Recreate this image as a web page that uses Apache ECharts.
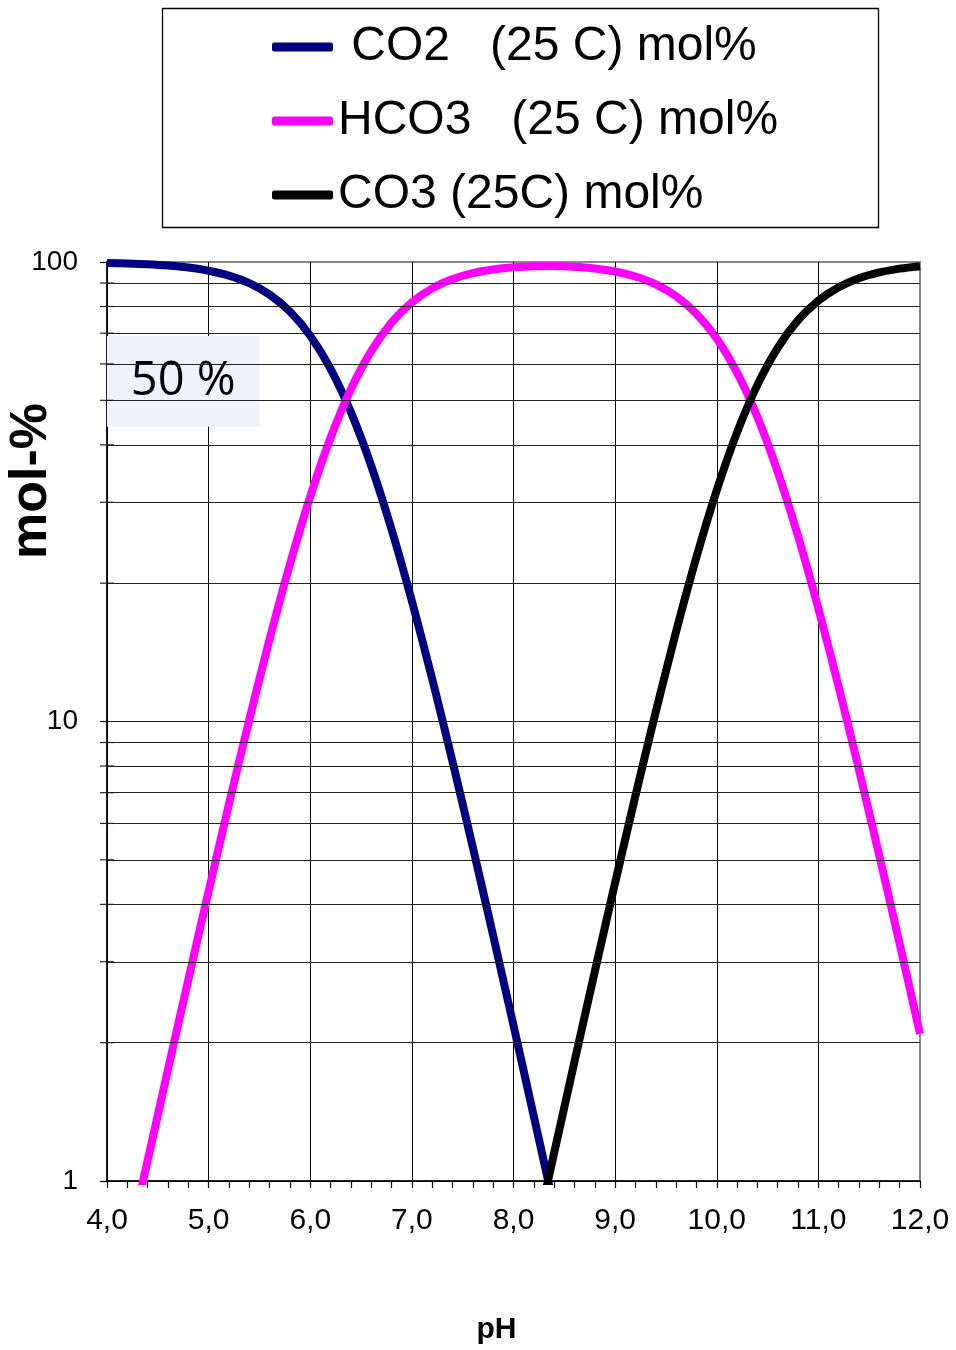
<!DOCTYPE html>
<html>
<head>
<meta charset="utf-8">
<script src="https://cdn.jsdelivr.net/npm/echarts@6/dist/echarts.min.js"></script>
<style>html,body{margin:0;padding:0;background:#fff;}#c{width:956px;height:1350px;}</style>
</head>
<body>
<div id="c"></div>
<script>
// pH grid (x values)
const pH = [4.0,4.2,4.4,4.6,4.8,5.0,5.2,5.4,5.6,5.8,6.0,6.2,6.4,6.6,6.8,7.0,7.2,7.4,7.6,7.8,
            8.0,8.2,8.4,8.6,8.8,9.0,9.2,9.4,9.6,9.8,10.0,10.2,10.4,10.6,10.8,11.0,11.2,11.4,11.6,11.8,12.0];
// CO2 mol%
const co2 = [99.56,99.30,98.89,98.25,97.26,95.72,93.39,89.91,84.91,78.02,69.12,58.55,47.12,36.00,26.19,18.29,12.38,8.18,5.32,3.42,
             2.18,1.383,0.873,0.549,null,null,null,null,null,null,null,null,null,null,null,null,null,null,null,null,null];
// HCO3 mol%
const hco3 = [0.445,0.703,1.109,1.747,2.741,4.276,6.611,10.09,15.10,21.99,30.88,41.45,52.87,63.99,73.80,81.70,87.61,91.80,94.62,96.30,
              97.36,97.90,97.98,97.63,96.80,95.33,92.97,89.42,84.27,77.18,68.13,57.42,45.98,34.94,25.31,17.61,11.89,7.84,5.10,3.28,2.09];
// CO3 mol%
const co3 = [null,null,null,null,null,null,null,null,null,null,null,null,null,null,null,null,null,null,null,null,
             0.455,0.726,1.151,1.818,2.857,4.458,6.893,10.50,15.69,22.78,31.86,42.57,54.02,65.06,74.69,82.39,88.11,92.16,94.90,96.72,97.91];
// minor horizontal grid values
const minorY = [2,3,4,5,6,7,8,9,20,30,40,50,60,70,80,90];
const seriesNames = [' CO2   (25 C) mol%', 'HCO3   (25 C) mol%', 'CO3 (25C) mol%'];
const xTickLabels = ['4,0','5,0','6,0','7,0','8,0','9,0','10,0','11,0','12,0'];

const FONT = 'Liberation Sans, Arial, sans-serif';
function pairs(vals){ const out=[]; vals.forEach((v,i)=>{ if(v!==null) out.push([pH[i], v]); }); return out; }

const chart = echarts.init(document.getElementById('c'));
chart.setOption({
  animation: false,
  backgroundColor: '#fff',
  grid: { left: 107, right: 36, top: 262, bottom: 168, show: true, borderColor: '#888', borderWidth: 2, backgroundColor: 'transparent' },
  legend: {
    data: seriesNames, orient: 'vertical', left: 272, top: 23, padding: 0,
    itemWidth: 61, itemHeight: 9, itemGap: 26, icon: 'roundRect',
    textStyle: { fontFamily: FONT, fontSize: 48, color: '#000', lineHeight: 48 }
  },
  graphic: [
    { type: 'rect', shape: { x: 162.5, y: 8.5, width: 716, height: 219 }, style: { fill: 'none', stroke: '#000', lineWidth: 1.3 }, z: 10 },
    { type: 'text', x: 32, y: 481, rotation: Math.PI / 2,
      style: { text: 'mol-%', font: 'bold 52px ' + FONT, fill: '#000', align: 'center', verticalAlign: 'middle' } }
  ],
  xAxis: {
    type: 'value', min: 4, max: 12, interval: 1,
    name: 'pH', nameLocation: 'middle', nameGap: 134,
    nameTextStyle: { fontFamily: FONT, fontSize: 30, fontWeight: 'bold', color: '#000', padding: [0, 34, 0, 0] },
    axisLine: { show: true, onZero: false, lineStyle: { color: '#000', width: 1.5 } },
    axisTick: { show: true, inside: false, length: 7, lineStyle: { color: '#000', width: 1.2 } },
    minorTick: { show: true, splitNumber: 5, length: 7, lineStyle: { color: '#000', width: 1.2 } },
    axisLabel: { fontFamily: FONT, fontSize: 30, color: '#000', margin: 25,
      formatter: v => xTickLabels[Math.round(v) - 4] },
    splitLine: { show: true, showMaxLine: false, lineStyle: { color: '#000', width: 1 } }
  },
  yAxis: {
    type: 'log', logBase: 10, min: 1, max: 100,
    axisLine: { show: true, onZero: false, lineStyle: { color: '#000', width: 1.5 } },
    axisTick: { show: true, inside: false, length: 7, lineStyle: { color: '#000', width: 1.2 } },
    axisLabel: { fontFamily: FONT, fontSize: 28, color: '#000', margin: 29 },
    splitLine: { show: true, showMaxLine: false, lineStyle: { color: '#222', width: 1 } }
  },
  series: [
    { name: 'box', type: 'line', data: [], z: -1, silent: true,
      markArea: { silent: true,
        itemStyle: { color: '#eff2f8' },
        label: { show: true, position: 'inside', fontFamily: 'Open Sans, sans-serif', fontSize: 47, color: '#000' },
        data: [[{ name: '50 %', xAxis: 4, yAxis: 43.8 }, { xAxis: 5.5, yAxis: 69 }]] } },
    { name: 'gridlines', type: 'line', data: [], z: 1, silent: true,
      markLine: { silent: true, symbol: ['rect', 'none'], symbolSize: [1.2, 14],
        label: { show: false },
        lineStyle: { color: '#222', width: 1, type: 'solid' },
        data: minorY.map(v => [{ coord: [4, v] }, { coord: [12, v] }]) } },
    { name: seriesNames[0], type: 'line', data: pairs(co2), smooth: 0.3, showSymbol: false, symbol: 'none', z: 3,
      color: '#000080', lineStyle: { color: '#000080', width: 8 } },
    { name: seriesNames[1], type: 'line', data: pairs(hco3), smooth: 0.3, showSymbol: false, symbol: 'none', z: 3,
      color: '#ff00ff', lineStyle: { color: '#ff00ff', width: 8 } },
    { name: seriesNames[2], type: 'line', data: pairs(co3), smooth: 0.3, showSymbol: false, symbol: 'none', z: 3,
      color: '#000000', lineStyle: { color: '#000000', width: 8 } }
  ]
});
</script>
</body>
</html>
